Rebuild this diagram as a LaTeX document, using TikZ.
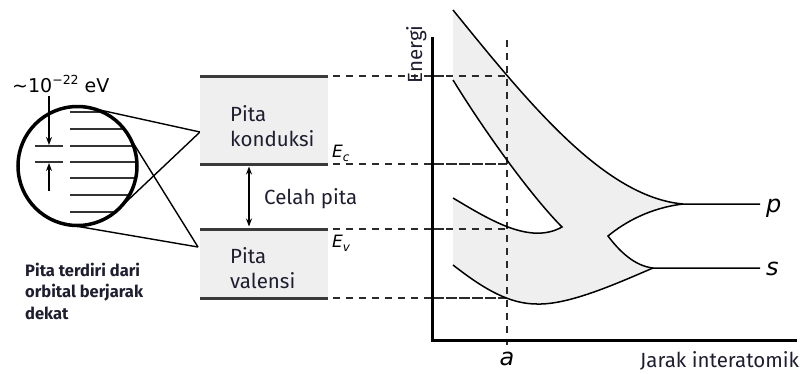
\documentclass[tikz,border=0pt]{standalone}
\usepackage{fontspec}
\setmainfont{Fira Sans}
\newfontfamily\dejavu{DejaVu Sans}
\usetikzlibrary{arrows.meta,calc}
\definecolor{bandfill}{HTML}{EFEFEF}
\definecolor{bandline}{HTML}{3A3A3A}
\definecolor{txt}{HTML}{1E1E30}
\definecolor{dashc}{HTML}{2A2A2A}
\begin{document}
\begin{tikzpicture}[x=1pt,y=-1pt,
  lbl/.style={inner sep=0pt,text=txt,font=\fontsize{20.5}{24}\selectfont},
  caplbl/.style={inner sep=0pt,text=txt,font=\fontsize{16.5}{20}\selectfont\bfseries},
  sym/.style={inner sep=0pt,text=black,font=\fontsize{24}{28}\selectfont\dejavu\itshape},
  bandedge/.style={draw=bandline,line width=3pt},
  guide/.style={draw=dashc,line width=1.6pt,dash pattern=on 7pt off 6pt},
  curve/.style={draw=black,line width=1.5pt},
  thinline/.style={draw=black,line width=1.4pt},
  level/.style={draw=black!80,line width=2.2pt},
  tip/.style={-{Stealth[length=8pt,width=6pt]}}]
\useasboundingbox (0,0) rectangle (803,373);

% ---------- magnifier circle ----------
\node[circle,minimum size=119pt,inner sep=0pt,outer sep=0pt] (mag) at (77.5,166) {};
\coordinate (V1) at (200,132);
\coordinate (V2) at (198,247);
\draw[thinline] (V1) -- (tangent cs:node=mag,point={(V1)},solution=1);
\draw[thinline] (V1) -- (tangent cs:node=mag,point={(V1)},solution=2);
\draw[thinline] (V2) -- (tangent cs:node=mag,point={(V2)},solution=1);
\draw[thinline] (V2) -- (tangent cs:node=mag,point={(V2)},solution=2);
\begin{scope}
  \clip (mag.center) circle (59.5pt);
  \foreach \yy in {112,129,146,162,178,195,212}
    \draw[level] (70,\yy) -- (140,\yy);
\end{scope}
\draw[level] (35,146) -- (63,146);
\draw[level] (35,162) -- (63,162);
\draw[draw=black,line width=3.5pt] (mag.center) circle (59.5pt);
\coordinate (ar1s) at (49,96);
\coordinate (ar1e) at (49,145);
\coordinate (ar2s) at (49,191);
\coordinate (ar2e) at (49,163);
\draw[thinline,tip] (ar1s) -- (ar1e);
\draw[thinline,tip] (ar2s) -- (ar2e);
\node[inner sep=0pt,anchor=base west,font=\fontsize{19}{22}\selectfont\dejavu] (gap) at (12,92)
  {\textasciitilde 10\raisebox{7.5pt}{\fontsize{12.5}{14}\selectfont −22} eV};

% caption
\node[caplbl,anchor=base west] (cap1) at (25,276) {Pita terdiri dari};
\node[caplbl,anchor=base west] (cap2) at (25,297.5) {orbital berjarak};
\node[caplbl,anchor=base west] (cap3) at (25,319) {dekat};

% ---------- band diagram ----------
\fill[bandfill] (200,76) rectangle (328,164);
\fill[bandfill] (200,229) rectangle (328,298);
\foreach \yy/\nm in {76/t,164/c,229/v,298/b}{
  \coordinate (L\nm) at (200,\yy);
  \coordinate (R\nm) at (328,\yy);
  \coordinate (D\nm) at (333,\yy);
  \coordinate (A\nm) at (507,\yy);
  \draw[bandedge] (L\nm) -- (R\nm);
  \draw[guide] (D\nm) -- (A\nm);
}
\node[lbl,anchor=base west] (k1) at (230,121) {Pita};
\node[lbl,anchor=base west] (k2) at (230,146) {konduksi};
\node[lbl,anchor=base west] (v1) at (230,263) {Pita};
\node[lbl,anchor=base west] (v2) at (230,288) {valensi};
\node[lbl,anchor=base west] (cg) at (264,204) {Celah pita};
\coordinate (gt) at (249,166.5);
\coordinate (gb) at (249,226.5);
\draw[thinline,{Stealth[length=8pt,width=6pt]}-{Stealth[length=8pt,width=6pt]}] (gt) -- (gb);
\node[inner sep=0pt,anchor=base west,font=\fontsize{17}{20}\selectfont\dejavu\itshape] (Ec) at (332,157)
  {E\raisebox{-4.5pt}{\fontsize{12}{14}\selectfont c}};
\node[inner sep=0pt,anchor=base west,font=\fontsize{17}{20}\selectfont\dejavu\itshape] (Ev) at (332,247)
  {E\raisebox{-4.5pt}{\fontsize{12}{14}\selectfont v}};

% ---------- energy plot ----------
\coordinate (p0) at (453,10);
\coordinate (pm) at (683,204);
\coordinate (cusp) at (608,236);
\coordinate (sm) at (653,268);
\coordinate (smin) at (537,304);
\coordinate (s0) at (453,265);
\coordinate (q0) at (453,198);
\coordinate (qtip) at (562,227);
\coordinate (q1) at (453,80);
\coordinate (pend) at (760,204);
\coordinate (send) at (760,268);

\fill[bandfill] (p0) .. controls (530,105) and (605,197) .. (pm)
  .. controls (650,208) and (625,222) .. (cusp)
  .. controls (620,252) and (635,266) .. (sm)
  .. controls (620,282) and (570,305) .. (smin)
  .. controls (510,304) and (485,290) .. (s0)
  -- (q0)
  .. controls (490,220) and (530,245) .. (qtip)
  .. controls (535,200) and (490,140) .. (q1)
  -- cycle;

\foreach \yy/\nm in {76/t,164/c,229/v,298/b}
  \draw[guide] (433,\yy) -- (A\nm);
\coordinate (atop) at (507,40);
\coordinate (abot) at (507,345);
\draw[guide] (atop) -- (abot);

\draw[curve] (p0) .. controls (530,105) and (605,197) .. (pm) -- (pend);
\draw[curve] (q1) .. controls (490,140) and (535,200) .. (qtip)
  .. controls (530,245) and (490,220) .. (q0);
\draw[curve] (pm) .. controls (650,208) and (625,222) .. (cusp)
  .. controls (620,252) and (635,266) .. (sm) -- (send);
\draw[curve] (s0) .. controls (485,290) and (510,304) .. (smin)
  .. controls (570,305) and (620,282) .. (sm);

\coordinate (ytop) at (432,37);
\coordinate (orig) at (432,340);
\coordinate (xend) at (797,340);
\draw[draw=black,line width=3pt] (ytop) -- (orig) -- (xend);

\node[lbl,rotate=90,anchor=base] (en) at (422,54.5) {Energi};
\node[lbl,anchor=base west] (jx) at (640,367) {Jarak interatomik};
\node[sym,anchor=base] (alab) at (507,365) {a};
\node[sym,anchor=base west] (plab) at (766,212) {p};
\node[sym,anchor=base west] (slab) at (766,275) {s};
\end{tikzpicture}
\end{document}
